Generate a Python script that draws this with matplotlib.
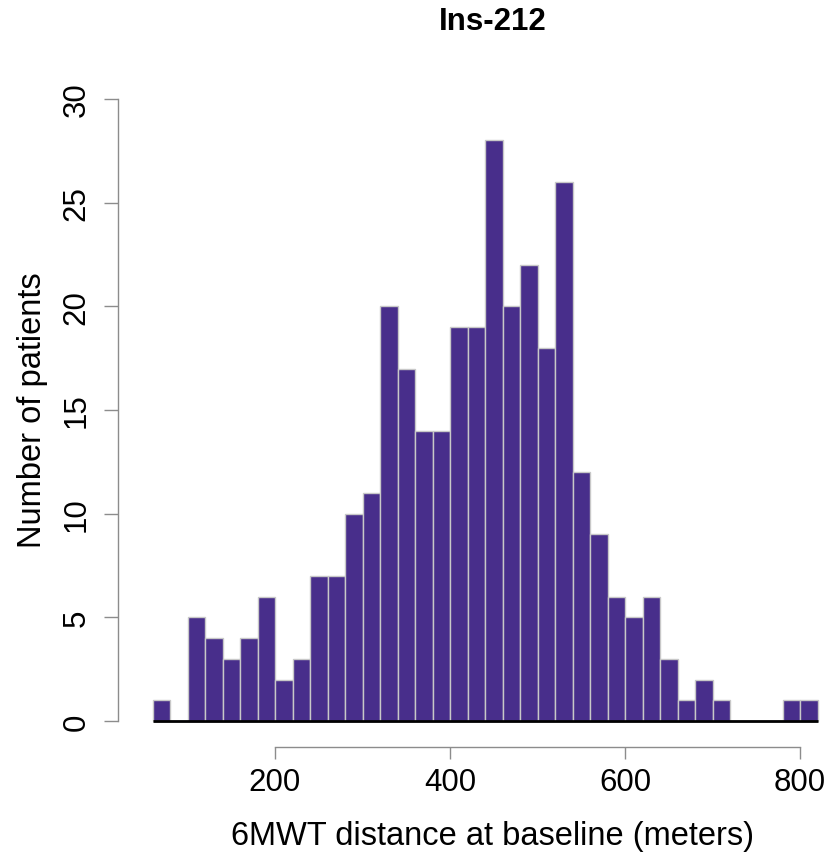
import numpy as np
import matplotlib
matplotlib.use("Agg")
import matplotlib.pyplot as plt

plt.rcParams['font.family'] = ['Liberation Sans', 'DejaVu Sans']

# histogram bins (meters) and patient counts
bin_start = 60
bin_width = 20
counts = [1, 0, 5, 4, 3, 4, 6, 2, 3, 7,
          7, 10, 11, 20, 17, 14, 14, 19, 19, 28,
          20, 22, 18, 26, 12, 9, 6, 5, 6, 3,
          1, 2, 1, 0, 0, 0, 1, 1]
x_ticks = [200, 400, 600, 800]
y_ticks = [0, 5, 10, 15, 20, 25, 30]

edges = bin_start + bin_width * np.arange(len(counts) + 1)

W, H = 827, 854
fig = plt.figure(figsize=(W / 100, H / 100), dpi=100)
# axes box: left edge at y-axis line, bottom at x-axis line
left, right, bottom, top = 118, 827, 748, 90
ax = fig.add_axes([left / W, 1 - bottom / H, (right - left) / W, (bottom - top) / H])

ax.bar(edges[:-1], counts, width=bin_width, align='edge',
       color='#482E8B', edgecolor='#C8C8C8', linewidth=1.0)
ax.hlines(0, edges[0], edges[-1], color='black', linewidth=2)

# map pixels -> data (200 at px 275, 800 at px 800; 0 at px 722, 30 at px 100)
xs = 600 / (800 - 275)
ax.set_xlim(200 + (left - 275) * xs, 200 + (right - 275) * xs)
ys = 30 / (722 - 100)
ax.set_ylim(-(bottom - 722) * ys, 30 + (100 - top) * ys)

for s in ['top', 'right']:
    ax.spines[s].set_visible(False)
ax.spines['left'].set_bounds(0, 30)
ax.spines['bottom'].set_bounds(200, 800)
for s in ['left', 'bottom']:
    ax.spines[s].set_color('#8C8C8C')
    ax.spines[s].set_linewidth(1.0)

ax.set_xticks(x_ticks)
ax.set_yticks(y_ticks)
ax.tick_params(axis='both', colors='#8C8C8C', labelcolor='black', labelsize=22.5,
               width=1.0, direction='out')
ax.tick_params(axis='x', pad=6, length=8.6)
ax.tick_params(axis='y', pad=9, length=10)
plt.setp(ax.get_yticklabels(), rotation=90, va='center')

ax.set_xlabel('6MWT distance at baseline (meters)', fontsize=23.5)
ax.set_ylabel('Number of patients', fontsize=23.5)
ax.xaxis.set_label_coords((493 - left) / (right - left), -(821 - bottom) / (bottom - top))
ax.yaxis.set_label_coords(-(left - 48) / (right - left), (722 - 410) / (bottom - top) + (bottom - 722) / (bottom - top))
fig.text(493 / W, 1 - 22 / H, 'Ins-212', fontsize=22.5, fontweight='bold',
         ha='center', va='center')

fig.savefig('out.png', dpi=100)
